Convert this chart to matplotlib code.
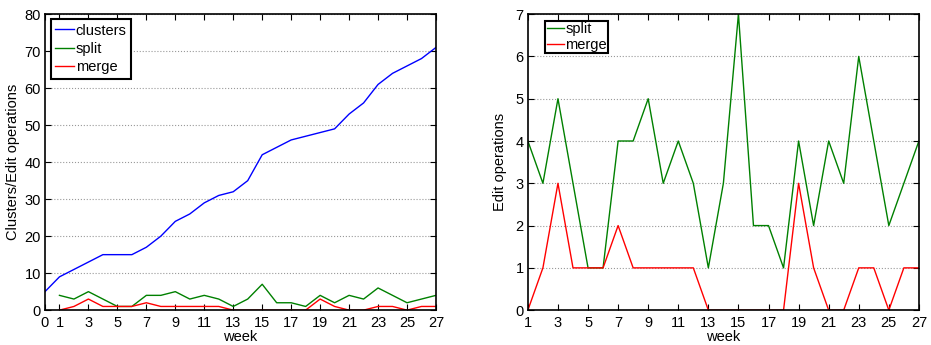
import matplotlib
matplotlib.use("Agg")
from matplotlib import pyplot as plt
import numpy as np

plt.rcParams['font.family'] = ['Liberation Sans', 'DejaVu Sans']
plt.rcParams['font.size'] = 10.5

weeks_all = np.arange(0, 28)
weeks = np.arange(1, 28)
clusters = [5, 9, 11, 13, 15, 15, 15, 17, 20, 24, 26, 29, 31, 32, 35, 42, 44,
            46, 47, 48, 49, 53, 56, 61, 64, 66, 68, 71]
split = [4, 3, 5, 3, 1, 1, 4, 4, 5, 3, 4, 3, 1, 3, 7, 2, 2, 1, 4, 2, 4, 3, 6,
         4, 2, 3, 4]
merge = [0, 1, 3, 1, 1, 1, 2, 1, 1, 1, 1, 1, 0, 0, 0, 0, 0, 0, 3, 1, 0, 0, 1,
         1, 0, 1, 1]

blue = '#0000ff'
green = '#008000'
red = '#ff0000'

fig = plt.figure(figsize=(9.31, 3.45), dpi=100)
ax1 = fig.add_axes([0.0483, 0.101, 0.42, 0.858])
ax2 = fig.add_axes([0.567, 0.101, 0.42, 0.858])


def style(ax):
    ax.tick_params(direction='in', top=True, right=True, length=4,
                   width=0.8)
    ax.tick_params(axis='x', pad=4)
    ax.tick_params(axis='y', pad=3)
    ax.yaxis.grid(True, linestyle=':', color='#999999', linewidth=0.8)
    ax.set_axisbelow(True)
    for s in ax.spines.values():
        s.set_linewidth(1.2)
    ax.set_xlabel("week", labelpad=0)


ax1.plot(weeks_all, clusters, color=blue, lw=1, label='clusters')
ax1.plot(weeks, split, color=green, lw=1, label='split')
ax1.plot(weeks, merge, color=red, lw=1, label='merge')
ax1.set_xlim(0, 27)
ax1.set_ylim(0, 80)
ax1.set_xticks([0] + list(range(1, 28, 2)))
ax1.set_yticks(range(0, 81, 10))
ax1.set_ylabel("Clusters/Edit operations", labelpad=3)
style(ax1)
leg = ax1.legend(loc='upper left', fancybox=False, edgecolor='black',
                 framealpha=1, handlelength=1.3, handletextpad=0.1,
                 borderpad=0.3, labelspacing=0.3, borderaxespad=0,
                 bbox_to_anchor=(0.015, 0.983))
leg.get_frame().set_linewidth(1.5)

ax2.plot(weeks, split, color=green, lw=1, label='split')
ax2.plot(weeks, merge, color=red, lw=1, label='merge')
ax2.set_xlim(1, 27)
ax2.set_ylim(0, 7)
ax2.set_xticks(range(1, 28, 2))
ax2.set_yticks(range(0, 8))
ax2.set_ylabel("Edit operations", labelpad=6)
style(ax2)
leg = ax2.legend(loc='upper left', fancybox=False, edgecolor='black',
                 framealpha=1, handlelength=1.2, handletextpad=0.05,
                 borderpad=0.1, labelspacing=0.1, borderaxespad=0,
                 bbox_to_anchor=(0.045, 0.977))
leg.get_frame().set_linewidth(1.5)

fig.savefig("out.png", dpi=100)
